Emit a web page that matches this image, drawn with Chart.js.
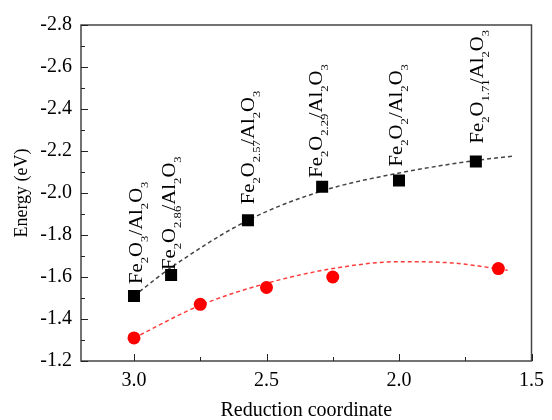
<!DOCTYPE html>
<html>
<head>
<meta charset="utf-8">
<script src="https://cdn.jsdelivr.net/npm/chart.js@4.4.0/dist/chart.umd.min.js"></script>
<style>
  body { margin: 0; background: #fff; }
</style>
</head>
<body>
<canvas id="grafico" width="552" height="420"></canvas>
<script>
// measured points
const blackX = [3.0, 2.86, 2.57, 2.29, 2.0, 1.71];
const blackY = [-1.51, -1.61, -1.87, -2.03, -2.06, -2.15];
const redX = [3.0, 2.75, 2.5, 2.25, 1.625];
const redY = [-1.31, -1.47, -1.55, -1.60, -1.64];

// dashed fit curves
const blackFitX = [3.0, 2.86, 2.57, 2.29, 2.0, 1.71, 1.57];
const blackFitY = [-1.51, -1.645, -1.87, -2.01, -2.095, -2.155, -2.175];
const redFitX = [3.0, 2.75, 2.5, 2.25, 2.0, 1.8, 1.59];
const redFitY = [-1.31, -1.465, -1.57, -1.64, -1.673, -1.667, -1.632];

// labels above the black squares, "_" marks a subscript
const pointLabels = ["Fe_2O_3/Al_2O_3", "Fe_2O_2.86/Al_2O_3", "Fe_2O_2.57/Al_2O_3",
                     "Fe_2O_2.29/Al_2O_3", "Fe_2O_2/Al_2O_3", "Fe_2O_1.71/Al_2O_3"];

const xTicks = [3.0, 2.5, 2.0, 1.5];
const xMinor = [2.75, 2.25, 1.75];
const yTicks = [-2.8, -2.6, -2.4, -2.2, -2.0, -1.8, -1.6, -1.4, -1.2];
const yMinor = [-2.7, -2.5, -2.3, -2.1, -1.9, -1.7, -1.5, -1.3];

const FONT = '"Liberation Serif", "Times New Roman", serif';

function pts(xs, ys) {
    return xs.map((x, i) => ({x: x, y: ys[i]}));
}

// label placement relative to its square (px)
const labelDx = [8, 4, 6, 0, 3, 7];
const labelDy = [12, 5, 16, 9, 14, 18];

function parseLabel(s) {
    const parts = [];
    const re = /_([0-9.]+)|([^_]+?)(?=_|$)/g;
    let m;
    while ((m = re.exec(s)) !== null) {
        if (m[1]) parts.push({t: m[1], sub: true});
        else parts.push({t: m[2], sub: false});
    }
    return parts;
}

function drawLabel(ctx, text, x, y) {
    ctx.save();
    ctx.translate(x, y);
    ctx.rotate(-Math.PI / 2);
    ctx.scale(1.15, 1);
    ctx.fillStyle = '#000';
    ctx.textBaseline = 'alphabetic';
    ctx.textAlign = 'left';
    let pos = 0;
    parseLabel(text).forEach(p => {
        ctx.font = (p.sub ? '11px ' : '18px ') + FONT;
        ctx.fillText(p.t, pos, p.sub ? 6 : 0);
        pos += ctx.measureText(p.t).width;
        // the slash sits tight against long subscripts
        if (p.sub && p.t.length > 1) pos -= 4;
    });
    ctx.restore();
}

const framePlugin = {
    id: 'frame',
    afterDraw(chart) {
        const {ctx, chartArea: a, scales} = chart;
        ctx.save();
        ctx.strokeStyle = '#444';
        ctx.lineWidth = 1.5;
        ctx.strokeRect(a.left, a.top, a.right - a.left, a.bottom - a.top);
        ctx.lineWidth = 1;
        ctx.strokeStyle = '#222';
        ctx.beginPath();
        xTicks.concat(xMinor).forEach(v => {
            const px = Math.round(scales.x.getPixelForValue(v)) + 0.5;
            const len = xMinor.includes(v) ? 4 : 7;
            ctx.moveTo(px, a.bottom);
            ctx.lineTo(px, a.bottom - len);
        });
        yTicks.concat(yMinor).forEach(v => {
            const py = Math.round(scales.y.getPixelForValue(v)) + 0.5;
            const len = yMinor.includes(v) ? 4 : 7;
            ctx.moveTo(a.left, py);
            ctx.lineTo(a.left + len, py);
        });
        ctx.stroke();
        ctx.restore();

        pointLabels.forEach((txt, i) => {
            const px = scales.x.getPixelForValue(blackX[i]);
            const py = scales.y.getPixelForValue(blackY[i]);
            drawLabel(ctx, txt, px + labelDx[i], py - labelDy[i]);
        });
    }
};

Chart.defaults.font.family = FONT;
Chart.defaults.color = '#000';

const ctx = document.getElementById('grafico').getContext('2d');
const grafico = new Chart(ctx, {
    type: 'scatter',
    data: {
        datasets: [{
            data: pts(blackX, blackY),
            pointStyle: 'rect',
            pointRadius: 8.5,
            backgroundColor: '#000',
            borderWidth: 0,
            order: 1
        }, {
            data: pts(redX, redY),
            pointStyle: 'circle',
            pointRadius: 6.5,
            backgroundColor: '#ff0000',
            borderWidth: 0,
            order: 1
        }, {
            data: pts(blackFitX, blackFitY),
            showLine: true,
            pointRadius: 0,
            borderColor: '#444',
            borderWidth: 1.5,
            borderDash: [4, 3],
            cubicInterpolationMode: 'monotone',
            order: 2
        }, {
            data: pts(redFitX, redFitY),
            showLine: true,
            pointRadius: 0,
            borderColor: '#ff3c3c',
            borderWidth: 1.5,
            borderDash: [4, 3],
            cubicInterpolationMode: 'monotone',
            order: 2
        }]
    },
    options: {
        responsive: false,
        animation: false,
        layout: { padding: { top: 25, right: 11, left: 0, bottom: 0 } },
        plugins: { legend: { display: false }, tooltip: { enabled: false } },
        scales: {
            x: {
                type: 'linear',
                min: 1.5,
                max: 3.2,
                reverse: true,
                afterBuildTicks: s => { s.ticks = xTicks.map(v => ({value: v})); },
                afterFit: s => { s.height = 59; },
                grid: { display: false, drawTicks: false },
                border: { display: false },
                ticks: {
                    padding: 8,
                    font: { size: 20 },
                    callback: v => v.toFixed(1)
                },
                title: {
                    display: true,
                    text: 'Reduction coordinate',
                    font: { size: 20, lineHeight: 0.9 },
                    padding: { top: 0, bottom: 0 }
                }
            },
            y: {
                type: 'linear',
                min: -2.8,
                max: -1.2,
                reverse: true,
                afterBuildTicks: s => { s.ticks = yTicks.map(v => ({value: v})); },
                afterFit: s => { s.width = 81; },
                grid: { display: false, drawTicks: false },
                border: { display: false },
                ticks: {
                    padding: 9,
                    font: { size: 20 },
                    callback: v => v.toFixed(1)
                },
                title: {
                    display: true,
                    text: 'Energy (eV)',
                    font: { size: 18, lineHeight: 1.2 },
                    padding: { top: 11, bottom: 0 }
                }
            }
        }
    },
    plugins: [framePlugin]
});
</script>
</body>
</html>
